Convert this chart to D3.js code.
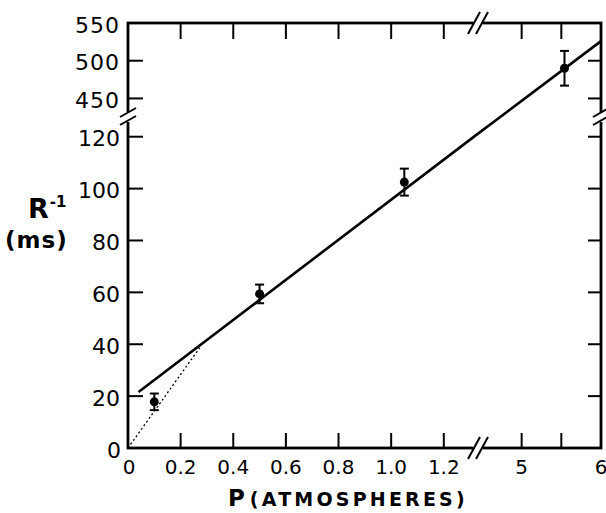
<!DOCTYPE html>
<html>
<head>
<meta charset="utf-8">
<script src="https://cdn.jsdelivr.net/npm/d3@7"></script>
<style>
  html, body { margin: 0; padding: 0; background: #fff; }
  svg { display: block; }
  text { font-family: 'DejaVu Sans', sans-serif; fill: #000; }
</style>
</head>
<body>
<svg id="chart" width="606" height="513"></svg>
<script>
// ---- data ----
const pointP   = [0.1, 0.5, 1.05, 5.54];
const pointR   = [17.8, 59.4, 102.5, 490];
const pointErr = [3.2, 3.6, 5.2, 23];

const fitP = [0.04, 1.33, 4.73, 6];
const fitR = [21.6, 121.2, 425.4, 526];

const dotP = [0, 0.275];
const dotR = [0, 39];

const xTicks = [0, 0.2, 0.4, 0.6, 0.8, 1.0, 1.2, 5, 5.5, 6];
const xTickLabels = ["0", "0.2", "0.4", "0.6", "0.8", "1.0", "1.2", "5", "", "6"];
const yTicks = [0, 20, 40, 60, 80, 100, 120, 450, 500, 550];
const yTickLabels = ["0", "20", "40", "60", "80", "100", "120", "450", "500", "550"];

// broken axes
const xBreakLow = 1.33, xBreakHigh = 4.45;
const yBreakLow = 127.6, yBreakHigh = 425.4;

// ---- layout ----
const L = 128, R = 601, T = 23, B = 448;
const xBreakPx = 478, yBreakPx = 117;

const x = d3.scaleLinear().domain([0, xBreakLow, xBreakHigh, 6]).range([L, xBreakPx, xBreakPx, R]);
const y = d3.scaleLinear().domain([0, yBreakLow, yBreakHigh, 550]).range([B, yBreakPx, yBreakPx, T]);

const svg = d3.select("#chart");
const g = svg.append("g");

// frame
const frame = g.append("g").attr("stroke", "#000").attr("stroke-width", 2.8).attr("fill", "none");
frame.append("rect").attr("x", L).attr("y", T).attr("width", R - L).attr("height", B - T);

// ticks (inward)
const tickG = g.append("g").attr("stroke", "#000").attr("stroke-width", 2);
xTicks.filter(v => v > 0 && v < 6).forEach(v => {
  tickG.append("line").attr("x1", x(v)).attr("x2", x(v)).attr("y1", B).attr("y2", B - 15);
  tickG.append("line").attr("x1", x(v)).attr("x2", x(v)).attr("y1", T).attr("y2", T + 16);
});
yTicks.filter(v => v > 0 && v < 550).forEach(v => {
  tickG.append("line").attr("x1", L).attr("x2", L + 15).attr("y1", y(v)).attr("y2", y(v));
  tickG.append("line").attr("x1", R).attr("x2", R - 13).attr("y1", y(v)).attr("y2", y(v));
});

// axis breaks
function xBreak(yy) {
  g.append("rect").attr("x", xBreakPx - 5).attr("y", yy - 3).attr("width", 10).attr("height", 6).attr("fill", "#fff");
  const s = g.append("g").attr("stroke", "#000").attr("stroke-width", 2);
  [-4, 4].forEach(o => {
    s.append("line").attr("x1", xBreakPx + o - 6).attr("y1", yy + 11).attr("x2", xBreakPx + o + 6).attr("y2", yy - 11);
  });
}
function yBreak(xx) {
  g.append("rect").attr("x", xx - 3).attr("y", yBreakPx - 5).attr("width", 6).attr("height", 10).attr("fill", "#fff");
  const s = g.append("g").attr("stroke", "#000").attr("stroke-width", 2);
  [-4, 4].forEach(o => {
    s.append("line").attr("x1", xx - 8).attr("y1", yBreakPx + o + 4).attr("x2", xx + 8).attr("y2", yBreakPx + o - 5);
  });
}
xBreak(B);
xBreak(T);
yBreak(L);
yBreak(R);

// tick labels
const xl = g.append("g").attr("font-size", 20).attr("text-anchor", "middle");
xTicks.forEach((v, i) => {
  if (!xTickLabels[i]) return;
  xl.append("text").attr("x", x(v) + (v === 0 ? 1 : 0)).attr("y", 474).text(xTickLabels[i]);
});
const yl = g.append("g").attr("font-size", 22).attr("text-anchor", "end");
yTicks.forEach((v, i) => {
  yl.append("text").attr("x", v === 0 ? 121 : 120).attr("y", y(v) + 2).attr("dy", "0.35em")
    .attr("letter-spacing", v >= 450 ? 1 : 0).text(yTickLabels[i]);
});

// axis titles
const xt = g.append("text").attr("x", 228).attr("y", 506).attr("font-weight", "bold");
xt.append("tspan").attr("font-size", 23).text("P");
xt.append("tspan").attr("font-size", 19).attr("letter-spacing", 3.2).attr("dx", 5).text("(ATMOSPHERES)");

const yt = g.append("text").attr("x", 28).attr("y", 218).attr("font-weight", "bold");
yt.append("tspan").attr("font-size", 27).text("R");
yt.append("tspan").attr("font-size", 15).attr("dy", -11).attr("dx", 1).text("-1");
g.append("text").attr("x", 5).attr("y", 248).attr("font-weight", "bold").attr("font-size", 23)
  .attr("letter-spacing", 1).text("(ms)");

// dotted line
const lineGen = d3.line().x(d => x(d[0])).y(d => y(d[1]));
g.append("path").datum(dotP.map((p, i) => [p, dotR[i]]))
  .attr("d", lineGen).attr("fill", "none").attr("stroke", "#000")
  .attr("stroke-width", 1.3).attr("stroke-dasharray", "2,2.5");

// fit line
g.append("path").datum(fitP.map((p, i) => [p, fitR[i]]))
  .attr("d", lineGen).attr("fill", "none").attr("stroke", "#000").attr("stroke-width", 2.6);

// points with error bars
const pts = g.append("g");
pointP.forEach((p, i) => {
  const cx = x(p), cy = y(pointR[i]);
  const y1 = y(pointR[i] + pointErr[i]), y2 = y(pointR[i] - pointErr[i]);
  const e = pts.append("g").attr("stroke", "#000").attr("stroke-width", 2);
  e.append("line").attr("x1", cx).attr("x2", cx).attr("y1", y1).attr("y2", y2);
  e.append("line").attr("x1", cx - 4.5).attr("x2", cx + 4.5).attr("y1", y1).attr("y2", y1);
  e.append("line").attr("x1", cx - 4.5).attr("x2", cx + 4.5).attr("y1", y2).attr("y2", y2);
  pts.append("circle").attr("cx", cx).attr("cy", cy).attr("r", 4.5).attr("fill", "#000");
});
</script>
</body>
</html>
